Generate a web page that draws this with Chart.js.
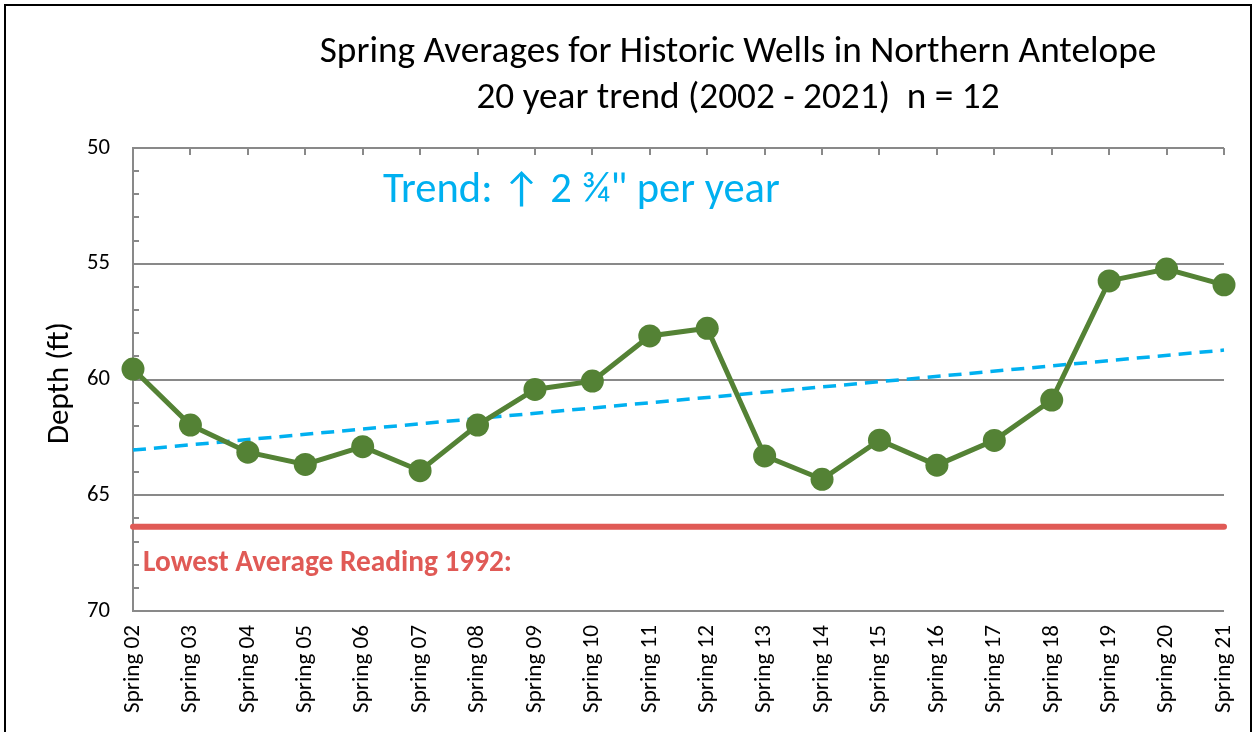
<!DOCTYPE html>
<html>
<head>
<meta charset="utf-8">
<script src="https://cdn.jsdelivr.net/npm/chart.js@4.4.1/dist/chart.umd.min.js"></script>
<style>
  html, body { margin: 0; padding: 0; background: #ffffff; }
  #wrap { position: relative; width: 1254px; height: 732px; overflow: hidden; }
  #frame { position: absolute; left: 4px; top: 4px; width: 1248px; height: 800px; border: 2px solid #000; box-sizing: border-box; pointer-events: none; }
  canvas { position: absolute; left: 0; top: 0; }
</style>
</head>
<body>
<div id="wrap">
  <canvas id="c" width="1254" height="732"></canvas>
  <div id="frame"></div>
</div>
<script>
// ---- data ----
const categories = ["Spring 02","Spring 03","Spring 04","Spring 05","Spring 06","Spring 07","Spring 08","Spring 09","Spring 10","Spring 11","Spring 12","Spring 13","Spring 14","Spring 15","Spring 16","Spring 17","Spring 18","Spring 19","Spring 20","Spring 21"];
const depthValues = [59.55, 61.97, 63.14, 63.67, 62.90, 63.94, 61.97, 60.43, 60.07, 58.12, 57.79, 63.30, 64.31, 62.62, 63.70, 62.63, 60.89, 55.74, 55.23, 55.91];
const trendStart = 63.05;   // trend line value at Spring 02
const trendEnd = 58.73;     // trend line value at Spring 21
const lowestReading = 66.36; // lowest average reading 1992
const yTicks = [50, 55, 60, 65, 70];
const titleLines = ["Spring Averages for Historic Wells in Northern Antelope", "20 year trend (2002 - 2021)  n = 12"];
const yTitle = "Depth (ft)";
const trendLabel = "Trend: \u2191 2 \u00BE\" per year";
const lowestLabel = "Lowest Average Reading 1992:";

const trendValues = categories.map((_, i) => i === 0 ? trendStart : (i === categories.length - 1 ? trendEnd : null));
const lowestValues = categories.map(() => lowestReading);

const FONT = "Calibri, Carlito, Lato, 'DejaVu Sans', sans-serif";
const GRID = '#898989';

// font size that makes a text occupy a given width
const mctx = document.createElement('canvas').getContext('2d');
function fitSize(text, weight, target) {
  mctx.font = weight + " 100px " + FONT;
  return 100 * target / mctx.measureText(text).width;
}
const titleSize = fitSize(titleLines[0], "normal", 837);
const yTitleSize = fitSize(yTitle, "normal", 122);
const trendSize = fitSize(trendLabel, "normal", 397);
const lowestSize = fitSize(lowestLabel, "bold", 369);
const xTickSize = fitSize("Spring 02", "normal", 88);
const yTickSize = fitSize("50", "normal", 23);

const decorPlugin = {
  id: 'decor',
  beforeDatasetsDraw(chart) {
    const { ctx, chartArea, scales } = chart;
    const x = scales.x, y = scales.y;
    ctx.save();
    ctx.strokeStyle = GRID;
    ctx.lineWidth = 2;
    categories.forEach((_, i) => {
      const px = Math.round(x.getPixelForValue(i));
      ctx.beginPath();
      ctx.moveTo(px, chartArea.top);
      ctx.lineTo(px, chartArea.top + 7);
      ctx.stroke();
    });
    for (let v = 51; v < 70; v++) {
      if (v % 5 === 0) continue;
      const py = Math.round(y.getPixelForValue(v));
      ctx.beginPath();
      ctx.moveTo(chartArea.left, py);
      ctx.lineTo(chartArea.left + 6, py);
      ctx.stroke();
    }
    ctx.restore();
  },
  afterDraw(chart) {
    const { ctx, chartArea } = chart;
    ctx.save();
    ctx.textBaseline = 'middle';
    ctx.textAlign = 'center';
    ctx.fillStyle = '#000';
    ctx.font = titleSize + "px " + FONT;
    ctx.fillText(titleLines[0], 738, 53);
    ctx.fillText(titleLines[1], 738, 99);
    ctx.save();
    ctx.translate(60, 383);
    ctx.rotate(-Math.PI / 2);
    ctx.font = yTitleSize + "px " + FONT;
    ctx.fillText(yTitle, 0, 0);
    ctx.restore();
    ctx.textAlign = 'left';
    ctx.fillStyle = '#00B0F0';
    ctx.font = trendSize + "px " + FONT;
    ctx.fillText(trendLabel, 383, 191);
    ctx.fillStyle = '#E05A56';
    ctx.font = "bold " + lowestSize + "px " + FONT;
    ctx.fillText(lowestLabel, chartArea.left + 10, 564);
    ctx.restore();
  }
};

new Chart(document.getElementById('c'), {
  type: 'line',
  data: {
    labels: categories,
    datasets: [
      {
        label: 'Spring average depth',
        data: depthValues,
        borderColor: '#548235',
        backgroundColor: '#548235',
        borderWidth: 5,
        pointRadius: 11.5,
        pointHoverRadius: 11.5,
        pointBackgroundColor: '#548235',
        pointBorderColor: '#548235',
        pointBorderWidth: 0,
        tension: 0,
        clip: false,
        order: 0
      },
      {
        label: 'Trend',
        data: trendValues,
        spanGaps: true,
        borderColor: '#00B0F0',
        borderWidth: 3.5,
        borderDash: [13, 8],
        pointRadius: 0,
        tension: 0,
        clip: false,
        order: 1
      },
      {
        label: 'Lowest 1992',
        data: lowestValues,
        borderColor: '#E05A56',
        borderWidth: 6,
        borderCapStyle: 'round',
        pointRadius: 0,
        tension: 0,
        clip: false,
        order: 2
      }
    ]
  },
  options: {
    responsive: false,
    animation: false,
    events: [],
    layout: { padding: { top: 148, right: 30, left: 0, bottom: 0 } },
    plugins: {
      legend: { display: false },
      title: { display: false },
      tooltip: { enabled: false }
    },
    scales: {
      x: {
        type: 'category',
        offset: false,
        grid: { display: false, drawTicks: false },
        border: { display: false },
        ticks: {
          autoSkip: false,
          minRotation: 90,
          maxRotation: 90,
          padding: 14,
          color: '#000',
          font: { family: FONT, size: xTickSize }
        },
        afterFit(scale) { scale.height = 121; scale.paddingLeft = 0; scale.paddingRight = 0; }
      },
      y: {
        reverse: true,
        min: 50,
        max: 70,
        afterBuildTicks(scale) { scale.ticks = yTicks.map(v => ({ value: v })); },
        grid: { color: GRID, lineWidth: 2, drawTicks: false },
        border: { display: true, color: GRID, width: 2 },
        ticks: {
          padding: 23,
          color: '#000',
          font: { family: FONT, size: yTickSize }
        },
        afterFit(scale) { scale.width = 133; }
      }
    }
  },
  plugins: [decorPlugin]
});
</script>
</body>
</html>
